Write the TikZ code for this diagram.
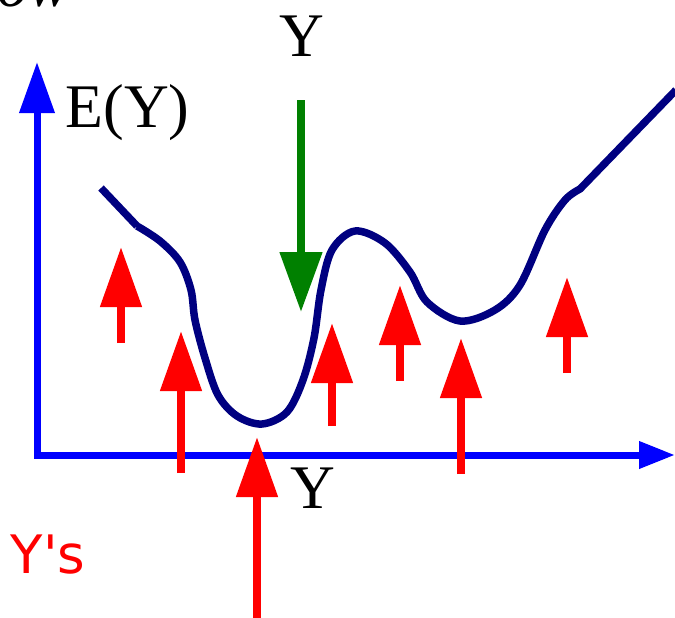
\documentclass[tikz,border=0pt]{standalone}
\usepackage{fontspec}
\setmainfont{Liberation Serif}
\newfontfamily\dvs{DejaVu Sans}
\usetikzlibrary{arrows.meta}
\definecolor{axisblue}{RGB}{0,0,255}
\definecolor{curvenavy}{RGB}{0,0,128}
\definecolor{samplered}{RGB}{255,0,0}
\definecolor{propgreen}{RGB}{0,128,0}
\begin{document}
\begin{tikzpicture}[x=1pt,y=-1pt,
  redarrow/.style={draw=samplered, line width=8pt, -{Triangle[length=60pt,width=40pt]}},
  greenarrow/.style={draw=propgreen, line width=8pt, -{Triangle[length=60pt,width=41pt]}},
  axisline/.style={draw=axisblue, line width=7pt, miter limit=10,
    {Triangle[length=36pt,width=26pt]}-{Triangle[length=51pt,width=34pt]}},
  bigtext/.style={font=\fontsize{62}{70}\selectfont, inner sep=0pt, anchor=base},
  redtext/.style={font=\dvs\fontsize{53}{60}\selectfont, text=samplered, inner sep=0pt, anchor=base},
  curve/.style={draw=curvenavy, line width=7.5pt, line join=round}
]
\useasboundingbox (0,0) rectangle (675,618);

% partially visible title text
\node[bigtext, anchor=base west] (title) at (-3,7) {\textit{ow}};

% axes
\coordinate (xend) at (675,455);
\coordinate (origin) at (37,455);
\coordinate (yend) at (37,62);
\draw[axisline] (xend) -- (origin) -- (yend);

% labels
\node[bigtext] (ey) at (127.5,128) {E(Y)};
\node[bigtext] (ytop) at (302,57) {Y};
\node[bigtext] (yaxis) at (312.5,508) {Y};
\node[redtext] (ys) at (48,573) {Y's};

% energy curve
\draw[curve] (101,188) -- (137,226)
  plot[smooth, tension=0.55] coordinates {(137,226) (160,241) (180,262) (191,290) (195,320) (205,358) (218,395) (237,416) (262,424) (287,412) (303,380) (314,338) (321,290) (332,250) (355,231) (385,243) (410,272) (427,302) (460,321) (495,310) (520,285) (545,230) (565,200) (580,189)}
  -- (676,90);

% green arrow
\coordinate (g1s) at (301,100);
\coordinate (g1e) at (301,312);
\draw[greenarrow] (g1s) -- (g1e);

% red arrows
\coordinate (r1s) at (121,343); \coordinate (r1e) at (121,247);
\coordinate (r2s) at (181,473); \coordinate (r2e) at (181,331);
\coordinate (r3s) at (257,620); \coordinate (r3e) at (257,437);
\coordinate (r4s) at (332,426); \coordinate (r4e) at (332,323);
\coordinate (r5s) at (400,381); \coordinate (r5e) at (400,285);
\coordinate (r6s) at (461,474); \coordinate (r6e) at (461,338);
\coordinate (r7s) at (567,373); \coordinate (r7e) at (567,277);
\foreach \i in {1,...,7} {\draw[redarrow] (r\i s) -- (r\i e);}
\end{tikzpicture}
\end{document}
